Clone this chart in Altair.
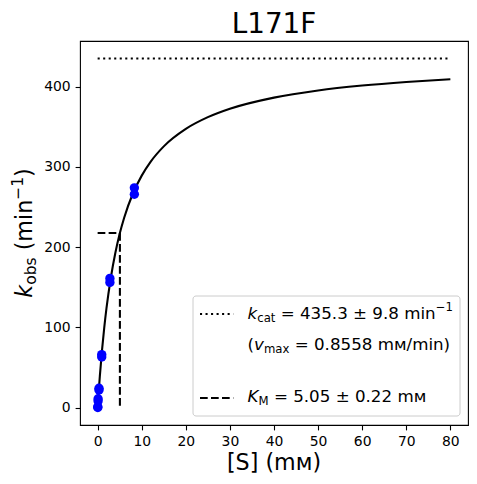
import altair as alt
import pandas as pd

FONT = "DejaVu Sans"

# ---- data ----
title = "L171F"
kcat = 435.3
km = 5.05

conc = [8.33, 8.33, 2.78, 2.78, 0.926, 0.926, 0.309, 0.309, 0.103, 0.103, 0.034, 0.034]
kobs = [274, 266, 161, 156, 66, 63, 24, 22, 11, 8, 1, 0]

curve_s = [0, 0.25, 0.5, 1, 1.5, 2, 3, 4, 5, 6, 8, 10, 12, 15, 20, 25, 30, 40, 50, 60, 70, 80]
curve_v = [0, 20.5, 39.2, 71.9, 99.7, 123.5, 162.2, 192.4, 216.6, 236.4, 266.9, 289.2,
           306.4, 325.7, 347.5, 362.1, 372.6, 386.5, 395.4, 401.5, 406.0, 409.5]

x_ticks = [0, 10, 20, 30, 40, 50, 60, 70, 80]
y_ticks = [0, 100, 200, 300, 400]

pts = pd.DataFrame({"S": conc, "v": kobs})
curve = pd.DataFrame({"S": curve_s, "v": curve_v})
kcat_line = pd.DataFrame({"S": [0, 80], "v": [kcat, kcat]})
km_lines = pd.DataFrame({
    "S": [0, km, km, km],
    "v": [kcat / 2, kcat / 2, kcat / 2, 0],
    "seg": ["h", "h", "v", "v"],
})

xs = alt.Scale(domain=[-4, 84], nice=False, zero=False)
ys = alt.Scale(domain=[-21.8, 457.1], nice=False, zero=False)
x_enc = alt.X("S:Q", scale=xs, title=None, axis=alt.Axis(values=x_ticks, format="d"))
y_enc = alt.Y("v:Q", scale=ys, title=None, axis=alt.Axis(values=y_ticks, format="d"))

LW = 2.08

curve_layer = alt.Chart(curve).mark_line(color="black", strokeWidth=LW, interpolate="monotone").encode(x=x_enc, y=y_enc)
kcat_layer = alt.Chart(kcat_line).mark_line(color="black", strokeWidth=LW, strokeDash=[2.08, 3.44]).encode(x=x_enc, y=y_enc)
km_layer = alt.Chart(km_lines).mark_line(color="black", strokeWidth=LW, strokeDash=[7.7, 3.3]).encode(
    x=x_enc, y=y_enc, detail="seg:N")
pt_layer = alt.Chart(pts).mark_circle(color="#0000ff", opacity=1, size=88).encode(x=x_enc, y=y_enc)


def one():
    return alt.Data(values=[{}])


def txt(s, x, y, size, angle=None, italic=False, align="left"):
    kw = dict(text=s, fontSize=size, font=FONT, color="black", align=align, baseline="alphabetic")
    if angle is not None:
        kw["angle"] = angle
    if italic:
        kw["fontStyle"] = "italic"
    return alt.Chart(one()).mark_text(**kw).encode(x=alt.value(x), y=alt.value(y))


def seg(x1, x2, y, dash):
    return alt.Chart(one()).mark_rule(color="black", strokeWidth=LW, strokeDash=dash).encode(
        x=alt.value(x1), x2=alt.value(x2), y=alt.value(y))


legend_box = alt.Chart(one()).mark_rect(
    fill="white", fillOpacity=0.8, stroke="#cccccc", strokeWidth=1, cornerRadius=3
).encode(x=alt.value(113), x2=alt.value(380), y=alt.value(255), y2=alt.value(375))

F = 16.7
FS = 11.7
LX = 2.5  # legend text shift
texts = [
    # title
    txt(title, 194, -8, 27.8, align="center"),
    # x axis title
    txt("[S] (mᴍ)", 194, 429, 22.2, align="center"),
    # y axis title (rotated)
    txt("k", -48, 256.7, 22.2, angle=270, italic=True),
    txt("obs", -44, 243.8, 15.5, angle=270),
    txt("(min", -48, 209.3, 22.2, angle=270),
    txt("−1", -57, 158.8, 15.5, angle=270),
    txt(")", -48, 136, 22.2, angle=270),
    # legend
    legend_box,
    seg(120, 153.3, 273, [2.08, 3.44]),
    seg(120, 153.3, 357, [7.7, 3.3]),
    txt("k", 165 + LX, 278, F, italic=True),
    txt("cat", 174.7 + LX, 281, FS),
    txt("= 435.3 ± 9.8 min", 198.2 + LX, 278, F),
    txt("−1", 353.3 + LX, 270, FS),
    txt("(", 165 + LX, 309, F),
    txt("v", 171.5 + LX, 309, F, italic=True),
    txt("max", 181.4 + LX, 312, FS),
    txt("= 0.8558 mᴍ/min)", 212.2 + LX, 309, F),
    txt("K", 165 + LX, 361, F, italic=True),
    txt("M", 176 + LX, 364, FS),
    txt("= 5.05 ± 0.22 mᴍ", 191.4 + LX, 361, F),
]

chart = alt.layer(curve_layer, kcat_layer, km_layer, pt_layer, *texts).properties(
    width=388, height=384,
    autosize=alt.AutoSizeParams(type="none"),
    padding={"left": 72, "top": 33, "right": 1, "bottom": 50},
).configure_view(
    stroke="black", strokeWidth=1.1
).configure_axis(
    grid=False, domain=False, ticks=True, tickColor="black", tickSize=4.9, tickWidth=1.1,
    labelFont=FONT, labelFontSize=13.9, labelColor="black", labelPadding=4.9,
)

chart.save("out.html", embed_options={"renderer": "svg", "actions": False})
